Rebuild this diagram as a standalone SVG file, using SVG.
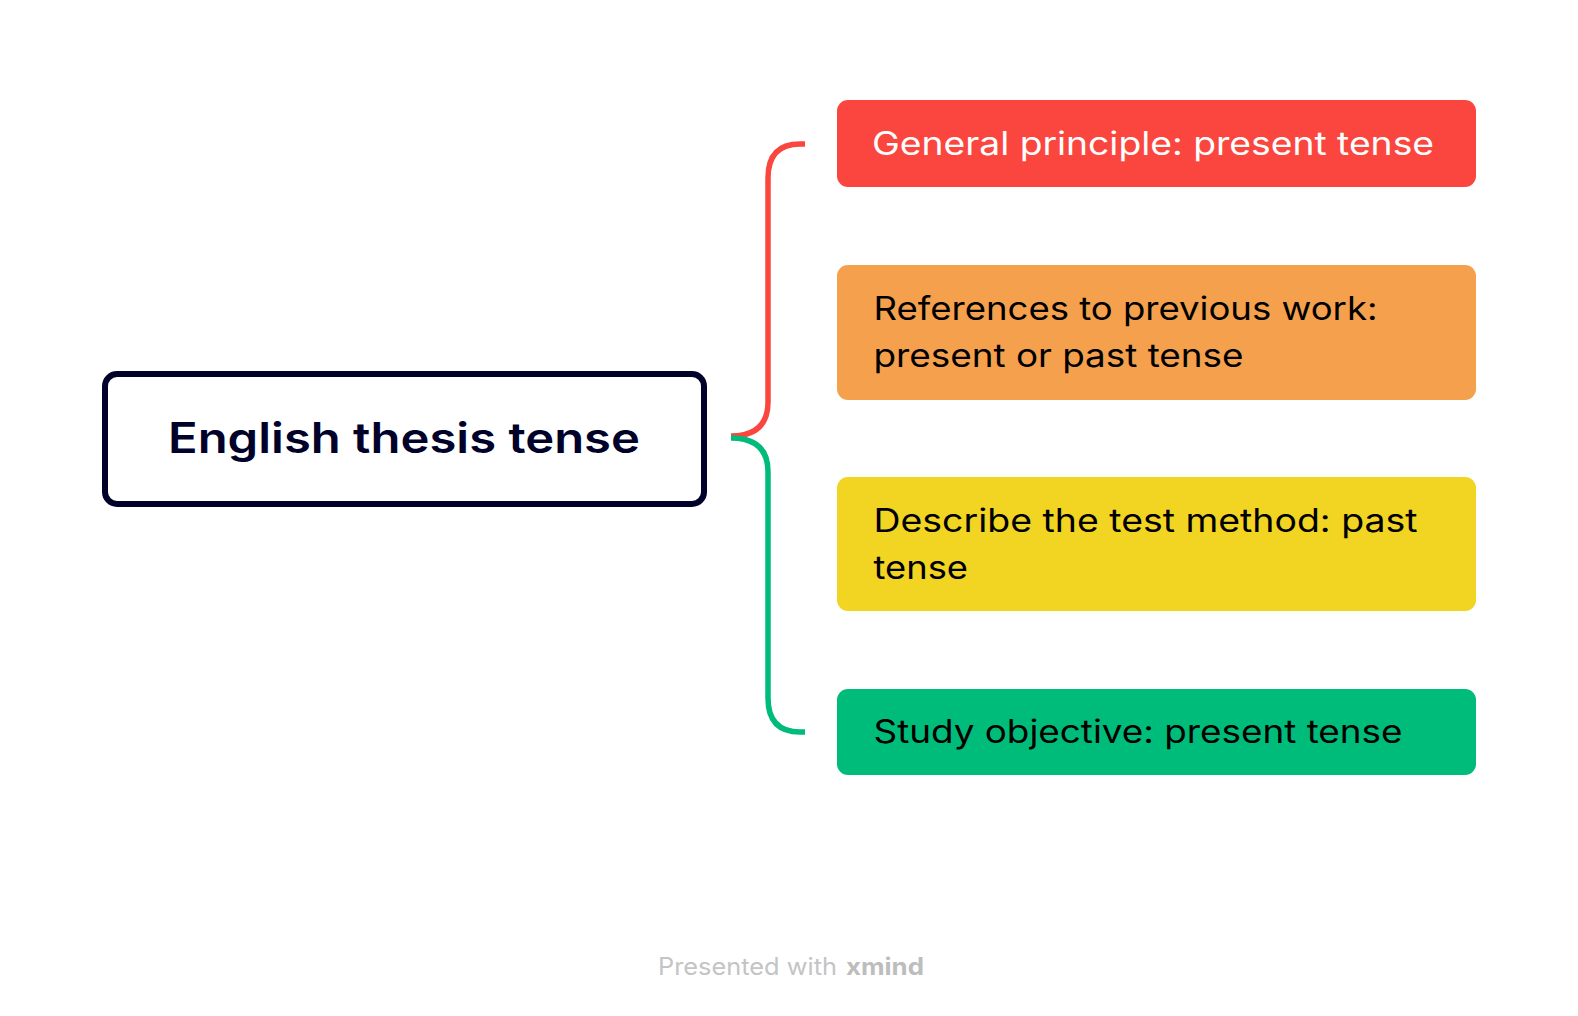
<svg xmlns="http://www.w3.org/2000/svg" width="1578" height="1016" viewBox="0 0 1578 1016">
<style>
.sub{font-family:Inter,"Open Sans","Liberation Sans",sans-serif;font-size:32px;font-weight:400;}
.dark{fill:#000000;}
.light{fill:#ffffff;}
.conn{fill:none;stroke-width:5.5;stroke-linecap:butt;}
.foot{font-family:Inter,"Open Sans","Liberation Sans",sans-serif;font-size:24px;}
</style>
<rect width="1578" height="1016" fill="#ffffff"/>
<g id="connectors">
<path class="conn" stroke="#FA463E" d="M731,436 Q768,436 768,402 L768,178 Q768,144 800,144 L805,144"/>
<path class="conn" stroke="#00BC7B" d="M731,438 Q768,438 768,472 L768,698 Q768,732 800,732 L805,732"/>
</g>
<g id="central">
<rect x="105" y="374" width="599" height="130" rx="12" fill="#ffffff" stroke="#00022A" stroke-width="6"/>
<text x="404" y="453" text-anchor="middle" font-family="Inter,'Open Sans','Liberation Sans',sans-serif" font-size="42" font-weight="600" fill="#00022A" textLength="472" lengthAdjust="spacingAndGlyphs">English thesis tense</text>
</g>
<g id="topic-general">
<rect x="837" y="100" width="639" height="87" rx="11" fill="#FA463E"/>
<text class="sub light" x="872" y="155" textLength="562" lengthAdjust="spacingAndGlyphs">General principle: present tense</text>
</g>
<g id="topic-references">
<rect x="837" y="265" width="639" height="135" rx="11" fill="#F5A04D"/>
<text class="sub dark" x="873.5" y="320" textLength="504" lengthAdjust="spacingAndGlyphs">References to previous work:</text>
<text class="sub dark" x="873.5" y="367" textLength="370" lengthAdjust="spacingAndGlyphs">present or past tense</text>
</g>
<g id="topic-method">
<rect x="837" y="477" width="639" height="134" rx="11" fill="#F2D422"/>
<text class="sub dark" x="873.5" y="532" textLength="544" lengthAdjust="spacingAndGlyphs">Describe the test method: past</text>
<text class="sub dark" x="873.5" y="579" textLength="94.5" lengthAdjust="spacingAndGlyphs">tense</text>
</g>
<g id="topic-objective">
<rect x="837" y="689" width="639" height="86" rx="11" fill="#00BC7B"/>
<text class="sub dark" x="873.5" y="743" textLength="529" lengthAdjust="spacingAndGlyphs">Study objective: present tense</text>
</g>
<g id="footer">
<text class="foot" x="658" y="975" fill="#C4C4C4" textLength="179" lengthAdjust="spacingAndGlyphs">Presented with</text>
<text class="foot" x="846" y="975" fill="#BDBDBD" font-weight="700" textLength="78" lengthAdjust="spacingAndGlyphs">xmind</text>
</g>
</svg>
